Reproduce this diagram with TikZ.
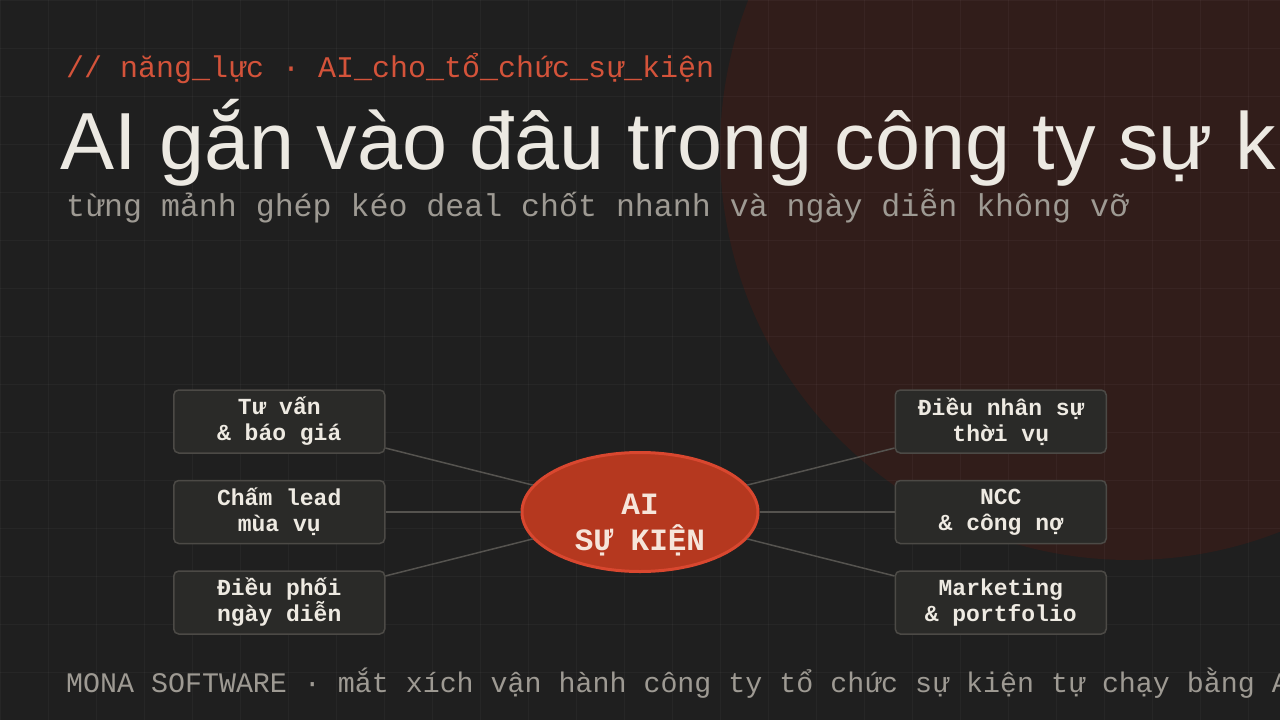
\documentclass[tikz,border=0pt]{standalone}
\usepackage{fontspec}
\setmainfont{Liberation Sans}
\newfontfamily\codefont{Liberation Mono}
\usepackage{tikz}
\usetikzlibrary{shapes.geometric,positioning}
\usepackage{xcolor}

\definecolor{pagebg}{HTML}{1F1F1F}
\definecolor{glow}{HTML}{311D1A}
\definecolor{accent}{HTML}{D4533A}
\definecolor{headline}{HTML}{ECE9E2}
\definecolor{muted}{HTML}{9E9A93}
\definecolor{boxfill}{HTML}{2A2A28}
\definecolor{boxline}{HTML}{4C4A46}
\definecolor{ink}{HTML}{EEEAE2}
\definecolor{wirecol}{HTML}{55534F}
\definecolor{corefill}{HTML}{B5381F}
\definecolor{coreline}{HTML}{D9472F}
\definecolor{coretext}{HTML}{F6E5DA}

\begin{document}
\begin{tikzpicture}[
            x=1pt, y=-1pt,
            node distance=26pt,
            pill/.style={rectangle, rounded corners=5pt, draw=boxline, line width=1.5pt, fill=boxfill, minimum width=211pt, minimum height=63pt, align=center, text=ink, font=\codefont\bfseries\fontsize{23}{26}\selectfont},
            core/.style={ellipse, draw=coreline, line width=3pt, fill=corefill, minimum width=236pt, minimum height=119pt, inner sep=0pt, text=coretext, font=\codefont\bfseries\fontsize{31}{35}\selectfont},
            label/.style={anchor=base west, inner sep=0pt},
            wire/.style={draw=wirecol, line width=1.5pt}
        ]
            % Background
            \useasboundingbox (0,0) rectangle (1280,720);
            \clip (0,0) rectangle (1280,720);
            \fill[pagebg] (0,0) rectangle (1280,720);
            \fill[glow] (1130,150) circle[radius=410pt];
            \foreach \gx in {0,48,...,1280} \draw[white, opacity=0.035, line width=1pt] (\gx,0) -- (\gx,720);
            \foreach \gy in {0,48,...,720} \draw[white, opacity=0.035, line width=1pt] (0,\gy) -- (1280,\gy);

            % Header
            \node[label, text=accent, font=\codefont\fontsize{30}{36}\selectfont] (tag) at (66,77) {// năng\_lực · AI\_cho\_tổ\_chức\_sự\_kiện};
            \node[label, text=headline, font=\fontsize{81}{90}\selectfont] (title) at (60,169) {AI gắn vào đâu trong công ty sự kiện};
            \node[label, text=muted, font=\codefont\fontsize{31.6}{36}\selectfont] (subtitle) at (66,216) {từng mảnh ghép kéo deal chốt nhanh và ngày diễn không vỡ};

            % Nodes
            \node[core] (core) at (640,512) {\raisebox{-20pt}[0pt][0pt]{\begin{tabular}{@{}c@{}}AI\\SỰ KIỆN\end{tabular}}};
            \node[pill, left=135pt of core] (lead) {Chấm lead\\mùa vụ};
            \node[pill, above=of lead] (quote) {Tư vấn\\\& báo giá};
            \node[pill, below=of lead] (showday) {Điều phối\\ngày diễn};
            \node[pill, right=135pt of core] (vendor) {NCC\\\& công nợ};
            \node[pill, above=of vendor] (crew) {Điều nhân sự\\thời vụ};
            \node[pill, below=of vendor] (promo) {Marketing\\\& portfolio};

            % Wires
            \draw[wire] (core) -- (quote);
            \draw[wire] (core) -- (lead);
            \draw[wire] (core) -- (showday);
            \draw[wire] (core) -- (crew);
            \draw[wire] (core) -- (vendor);
            \draw[wire] (core) -- (promo);

            % Footer
            \node[label, text=muted, font=\codefont\fontsize{28.3}{34}\selectfont] (footer) at (66,692) {MONA SOFTWARE · mắt xích vận hành công ty tổ chức sự kiện tự chạy bằng AI};
        \end{tikzpicture}
\end{document}
